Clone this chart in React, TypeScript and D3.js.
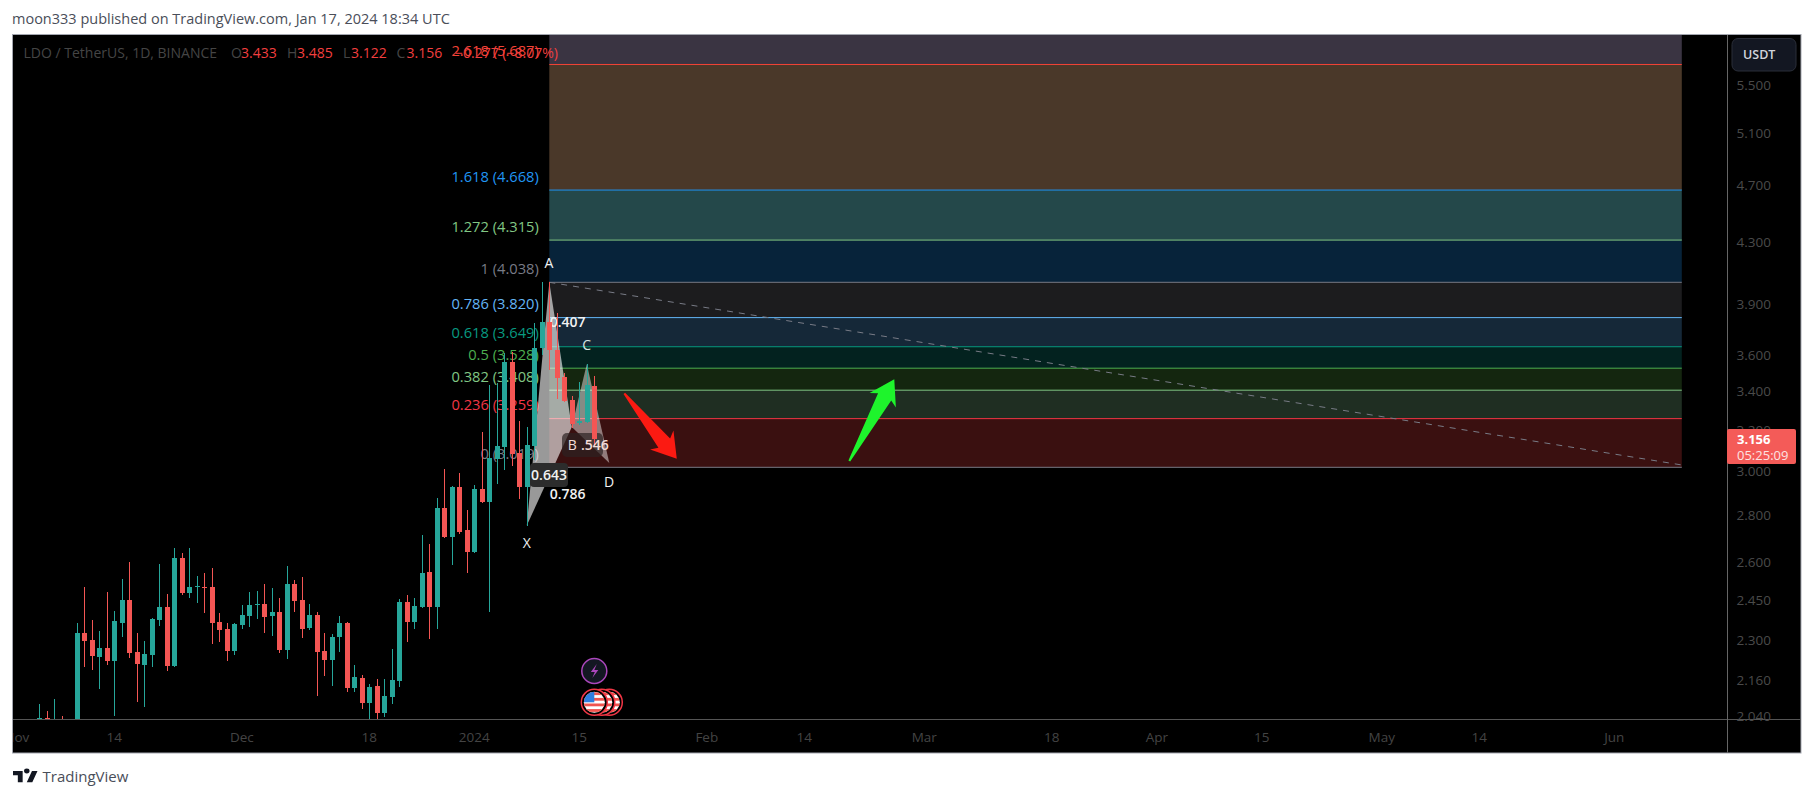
import { line, scaleLog, scaleUtc, utcDay } from 'd3'

const firstCandle = Date.UTC(2023, 10, 4)
const opens = [2.033, 2.036, 2.014, 2.023, 1.98, 1.92, 2.327, 2.301, 2.24, 2.272, 2.226, 2.364, 2.451, 2.258, 2.213, 2.247, 2.375, 2.424, 2.209, 2.618, 2.478, 2.502, 2.502, 2.502, 2.368, 2.342, 2.262, 2.357, 2.39, 2.432, 2.436, 2.39, 2.405, 2.265, 2.513, 2.451, 2.345, 2.394, 2.262, 2.23, 2.312, 2.364, 2.134, 2.168, 2.084, 2.141, 2.052, 2.104, 2.158, 2.444, 2.368, 2.424, 2.561, 2.424, 2.832, 2.705, 2.927, 2.736, 2.643, 2.918, 2.859, 3.059, 3.117, 3.563, 3.088, 2.927, 3.122, 3.642, 3.794, 3.631, 3.479, 3.356, 3.236, 3.242, 3.433]
const highs = [2.081, 2.058, 2.097, 2.042, 2.02, 2.364, 2.502, 2.375, 2.334, 2.482, 2.409, 2.533, 2.602, 2.327, 2.298, 2.383, 2.594, 2.474, 2.66, 2.639, 2.66, 2.545, 2.557, 2.577, 2.401, 2.364, 2.364, 2.432, 2.482, 2.486, 2.513, 2.498, 2.459, 2.586, 2.529, 2.541, 2.436, 2.405, 2.327, 2.323, 2.39, 2.368, 2.213, 2.178, 2.148, 2.164, 2.164, 2.268, 2.455, 2.47, 2.459, 2.715, 2.676, 2.877, 3.01, 2.932, 2.991, 2.823, 2.936, 3.191, 3.436, 3.447, 3.614, 3.62, 3.247, 3.216, 3.788, 4.038, 4.038, 3.848, 3.5, 3.377, 3.452, 3.552, 3.485]
const lows = [2.0, 2.0, 1.983, 1.998, 1.95, 1.9, 2.206, 2.195, 2.131, 2.213, 2.042, 2.312, 2.237, 2.087, 2.071, 2.206, 2.353, 2.193, 2.206, 2.47, 2.459, 2.44, 2.401, 2.287, 2.294, 2.226, 2.247, 2.342, 2.349, 2.379, 2.327, 2.316, 2.254, 2.233, 2.405, 2.309, 2.338, 2.107, 2.174, 2.141, 2.258, 2.12, 2.12, 2.065, 2.023, 2.023, 2.039, 2.081, 2.138, 2.294, 2.342, 2.42, 2.305, 2.342, 2.701, 2.59, 2.72, 2.557, 2.64, 2.855, 2.405, 2.941, 3.006, 3.025, 2.872, 2.755, 3.054, 3.602, 3.518, 3.361, 3.346, 3.211, 3.226, 3.236, 3.122]
const closes = [2.036, 2.032, 2.023, 2.011, 2.0, 2.327, 2.297, 2.244, 2.272, 2.226, 2.371, 2.451, 2.254, 2.217, 2.251, 2.379, 2.424, 2.209, 2.618, 2.478, 2.502, 2.506, 2.498, 2.364, 2.338, 2.262, 2.36, 2.394, 2.432, 2.436, 2.386, 2.405, 2.265, 2.513, 2.447, 2.342, 2.394, 2.258, 2.23, 2.312, 2.364, 2.134, 2.171, 2.084, 2.138, 2.052, 2.107, 2.161, 2.444, 2.368, 2.428, 2.557, 2.424, 2.832, 2.705, 2.927, 2.727, 2.643, 2.918, 2.859, 3.064, 3.122, 3.563, 3.083, 2.927, 3.127, 3.642, 3.794, 3.631, 3.474, 3.351, 3.231, 3.247, 3.436, 3.156]

const fibLevels = ['2.618', '1.618', '1.272', '1', '0.786', '0.618', '0.5', '0.382', '0.236', '0']
const fibPrices = [5.687, 4.668, 4.315, 4.038, 3.82, 3.649, 3.528, 3.408, 3.259, 3.019]
const fibLineColors = ['#f44336', '#2196f3', '#81c784', '#787b86', '#64b5f6', '#089981', '#4caf50', '#81c784', '#f23645', '#787b86']
// band below each level, first entry is the band above 2.618
const fibBandColors = ['#3a3442', '#4a3829', '#24484a', '#07233a', '#1c1c1e', '#152838', '#03221f', '#14260f', '#1f2e22', '#3a1010']

const priceTicks = ['5.500', '5.100', '4.700', '4.300', '3.900', '3.600', '3.400', '3.200', '3.000', '2.800', '2.600', '2.450', '2.300', '2.160', '2.040']
const timeTicks: Array<[number, string]> = [
  [Date.UTC(2023, 10, 1), 'Nov'],
  [Date.UTC(2023, 10, 14), '14'],
  [Date.UTC(2023, 11, 1), 'Dec'],
  [Date.UTC(2023, 11, 18), '18'],
  [Date.UTC(2024, 0, 1), '2024'],
  [Date.UTC(2024, 0, 15), '15'],
  [Date.UTC(2024, 1, 1), 'Feb'],
  [Date.UTC(2024, 1, 14), '14'],
  [Date.UTC(2024, 2, 1), 'Mar'],
  [Date.UTC(2024, 2, 18), '18'],
  [Date.UTC(2024, 3, 1), 'Apr'],
  [Date.UTC(2024, 3, 15), '15'],
  [Date.UTC(2024, 4, 1), 'May'],
  [Date.UTC(2024, 4, 14), '14'],
  [Date.UTC(2024, 5, 1), 'Jun'],
]

const fibStart = Date.UTC(2024, 0, 11)
const fibEnd = Date.UTC(2024, 5, 10)
const patternDates = [Date.UTC(2024, 0, 8), Date.UTC(2024, 0, 11), Date.UTC(2024, 0, 14), Date.UTC(2024, 0, 16), Date.UTC(2024, 0, 19)]
const patternPrices = [2.755, 4.038, 3.216, 3.552, 3.04]
const trendPrices = [4.038, 3.03]
const redArrow: Array<[number, number]> = [[Date.UTC(2024, 0, 21), 3.391], [Date.UTC(2024, 0, 28), 3.06]]
const greenArrow: Array<[number, number]> = [[Date.UTC(2024, 1, 20), 3.049], [Date.UTC(2024, 1, 26), 3.467]]
const flagDates = [Date.UTC(2024, 0, 19), Date.UTC(2024, 0, 18), Date.UTC(2024, 0, 17)]

const font = '"Open Sans", sans-serif'
const plot = { left: 13, right: 1727, top: 35, bottom: 719, frameRight: 1801, frameBottom: 753 }

const x = scaleUtc().domain([Date.UTC(2023, 10, 14), fibEnd]).range([114.3, 1681.8])
const y = scaleLog().domain([3.019, 4.038]).range([467.3, 282.3])
const path = line()

function arrowPath(tail: number[], tip: number[]) {
  const dx = tip[0] - tail[0]
  const dy = tip[1] - tail[1]
  const len = Math.hypot(dx, dy)
  const ux = dx / len
  const uy = dy / len
  const at = (back: number, side: number): [number, number] => [
    tip[0] - ux * back - uy * side,
    tip[1] - uy * back + ux * side,
  ]
  return (
    path([at(len, 1), at(20, 7.5), at(24, 15), at(0, 0), at(24, -15), at(20, -7.5), at(len, -1)]) + 'Z'
  )
}

function Flag({ cx, cy, id }: { cx: number; cy: number; id: string }) {
  return (
    <g>
      <clipPath id={id}>
        <circle cx={cx} cy={cy} r={10.5} />
      </clipPath>
      <circle cx={cx} cy={cy} r={13} fill="#000" stroke="#f23645" strokeWidth={1.5} />
      <g clipPath={`url(#${id})`}>
        <rect x={cx - 11} y={cy - 11} width={22} height={22} fill="#fff" />
        {[0, 1, 2, 3].map((i) => (
          <rect key={i} x={cx - 11} y={cy - 10 + i * 5.6} width={22} height={2.8} fill="#f0544f" />
        ))}
        <rect x={cx - 11} y={cy - 11} width={11} height={11} fill="#2f7fe0" />
      </g>
    </g>
  )
}

export default function App() {
  const fibX0 = x(fibStart)
  const fibX1 = x(fibEnd)
  const pts = patternDates.map((d, i) => [x(d), y(patternPrices[i])] as [number, number])

  return (
    <svg width={1815} height={798} style={{ position: 'absolute', left: 0, top: 0, background: '#fff', fontFamily: font }}>
      <defs>
        <clipPath id="plot">
          <rect x={plot.left} y={plot.top} width={plot.right - plot.left} height={plot.bottom - plot.top} />
        </clipPath>
        <clipPath id="time">
          <rect x={plot.left} y={plot.bottom} width={plot.right - plot.left} height={plot.frameBottom - plot.bottom} />
        </clipPath>
      </defs>

      <text x={12} y={24} fontSize={14.5} fill="#4a4e59">
        moon333 published on TradingView.com, Jan 17, 2024 18:34 UTC
      </text>

      <rect x={12.5} y={34.5} width={plot.frameRight - 12.5} height={plot.frameBottom - 34.5} fill="#000" stroke="#a3a6af" />

      <g clipPath="url(#plot)">
        {fibBandColors.map((color, i) => {
          const top = i === 0 ? plot.top : y(fibPrices[i - 1])
          return (
            <rect key={color + i} x={fibX0} y={top} width={fibX1 - fibX0} height={y(fibPrices[i]) - top} fill={color} />
          )
        })}
        {fibPrices.map((p, i) => (
          <line key={fibLevels[i]} x1={fibX0} x2={fibX1} y1={y(p)} y2={y(p)} stroke={fibLineColors[i]} strokeWidth={1} />
        ))}
        {fibPrices.map((p, i) => (
          <text
            key={`label-${fibLevels[i]}`}
            x={fibX0 - 10.5}
            y={y(p) - 13.5}
            dy="0.35em"
            textAnchor="end"
            fontSize={14.7}
            fill={fibLineColors[i]}
          >
            {fibLevels[i]} ({p.toFixed(3)})
          </text>
        ))}

        <line
          x1={fibX0}
          x2={fibX1}
          y1={y(trendPrices[0])}
          y2={y(trendPrices[1])}
          stroke="#787b86"
          strokeDasharray="6 6"
        />

        <path d={path(pts.slice(0, 3)) + 'Z'} fill="#fff" opacity={0.6} />
        <path d={path(pts.slice(2, 5)) + 'Z'} fill="#fff" opacity={0.45} />
        <rect x={530} y={463} width={38} height={24} rx={4} fill="#2c2c2c" />
        <rect x={562} y={433} width={41} height={24} rx={5} fill="#2c2222" opacity={0.7} />

        <text x={567.7} y={322} dy="0.35em" textAnchor="middle" fontSize={14} fontWeight={600} fill="#f2f2f2">0.407</text>

        {opens.map((open, i) => {
          const cx = Math.round(x(utcDay.offset(new Date(firstCandle), i)))
          const up = closes[i] >= open
          const color = up ? '#26a69a' : '#f45654'
          const top = y(Math.max(open, closes[i]))
          const bottom = y(Math.min(open, closes[i]))
          return (
            <g key={i} shapeRendering="crispEdges">
              <rect x={cx} y={y(highs[i])} width={1} height={y(lows[i]) - y(highs[i])} fill={color} />
              <rect x={cx - 2} y={top} width={5} height={Math.max(bottom - top, 1)} fill={color} />
            </g>
          )
        })}

        <text x={549} y={263} dy="0.35em" textAnchor="middle" fontSize={14} fill="#f2f2f2">A</text>
        <text x={572.3} y={445} dy="0.35em" textAnchor="middle" fontSize={14} fill="#f4dcd8">B</text>
        <text x={586.7} y={345} dy="0.35em" textAnchor="middle" fontSize={14} fill="#d8e6e4">C</text>
        <text x={609} y={482} dy="0.35em" textAnchor="middle" fontSize={14} fill="#f2f2f2">D</text>
        <text x={526.7} y={543} dy="0.35em" textAnchor="middle" fontSize={14} fill="#f2f2f2">X</text>
        <text x={549} y={475} dy="0.35em" textAnchor="middle" fontSize={14} fontWeight={600} fill="#f2f2f2">0.643</text>
        <text x={567.7} y={494} dy="0.35em" textAnchor="middle" fontSize={14} fontWeight={600} fill="#f2f2f2">0.786</text>
        <text x={581} y={445} dy="0.35em" fontSize={14} fontWeight={600} fill="#f4dcd8">.546</text>

        <path
          d={arrowPath([x(redArrow[0][0]), y(redArrow[0][1])], [x(redArrow[1][0]), y(redArrow[1][1])])}
          fill="#fb1a12"
        />
        <path
          d={arrowPath([x(greenArrow[0][0]), y(greenArrow[0][1])], [x(greenArrow[1][0]), y(greenArrow[1][1])])}
          fill="#1ef42c"
        />

        <circle cx={x(flagDates[2])} cy={671} r={12.5} fill="#131722" stroke="#ab47bc" strokeWidth={1.5} />
        <path
          d={`M${x(flagDates[2]) + 2.5},664l-6,8h4l-2.5,6l6,-8h-4z`}
          fill="#ab47bc"
        />
        {flagDates.map((d, i) => (
          <Flag key={d} cx={x(d)} cy={702.3} id={`flag-${i}`} />
        ))}
      </g>

      <text y={53.5} dy="0.35em" fontSize={14} fill="#454545">
        <tspan x={23.5}>LDO / TetherUS, 1D, BINANCE</tspan>
        <tspan x={231}>O</tspan>
        <tspan x={241} fill="#f23f3f">3.433</tspan>
        <tspan x={287}>H</tspan>
        <tspan x={297} fill="#f23f3f">3.485</tspan>
        <tspan x={343}>L</tspan>
        <tspan x={351} fill="#f23f3f">3.122</tspan>
        <tspan x={396.5}>C</tspan>
        <tspan x={406.5} fill="#f23f3f">3.156</tspan>
        <tspan x={455} fill="#f23f3f">−0.277 (−8.07%)</tspan>
      </text>

      <line x1={plot.left} x2={plot.frameRight} y1={plot.bottom + 0.5} y2={plot.bottom + 0.5} stroke="#555" />
      <line x1={plot.right + 0.5} x2={plot.right + 0.5} y1={plot.top} y2={plot.frameBottom} stroke="#666" />

      <g clipPath="url(#time)">
        {timeTicks.map(([d, label]) => (
          <text key={d} x={x(d)} y={737} dy="0.35em" textAnchor="middle" fontSize={13.5} fill="#444">
            {label}
          </text>
        ))}
      </g>

      {priceTicks.map((tick) => (
        <text key={tick} x={1736.5} y={y(+tick)} dy="0.35em" fontSize={13.5} fill="#4a4a4a">
          {tick}
        </text>
      ))}

      <rect x={1732} y={38.5} width={64} height={32.5} rx={6} fill="#131722" stroke="#2a2e39" />
      <text x={1743} y={55} dy="0.35em" fontSize={12.5} fontWeight={600} fill="#d1d4dc">USDT</text>

      <rect x={1727} y={429} width={69} height={35} rx={2} fill="#f45b58" />
      <text x={1737} y={439} dy="0.35em" fontSize={13} fontWeight={700} fill="#fff">3.156</text>
      <text x={1737} y={455} dy="0.35em" fontSize={13} fill="#fde3e2">05:25:09</text>

      <g transform="translate(13,768.5) scale(0.69,0.62)" fill="#131722">
        <path d="M14 22H7V11H0V4h14v18zM28 22h-8l7.5-18h8L28 22z" />
        <circle cx={20} cy={4} r={4} />
      </g>
      <text x={42.5} y={777} dy="0.35em" fontSize={15} fill="#4a4e59">TradingView</text>
    </svg>
  )
}
